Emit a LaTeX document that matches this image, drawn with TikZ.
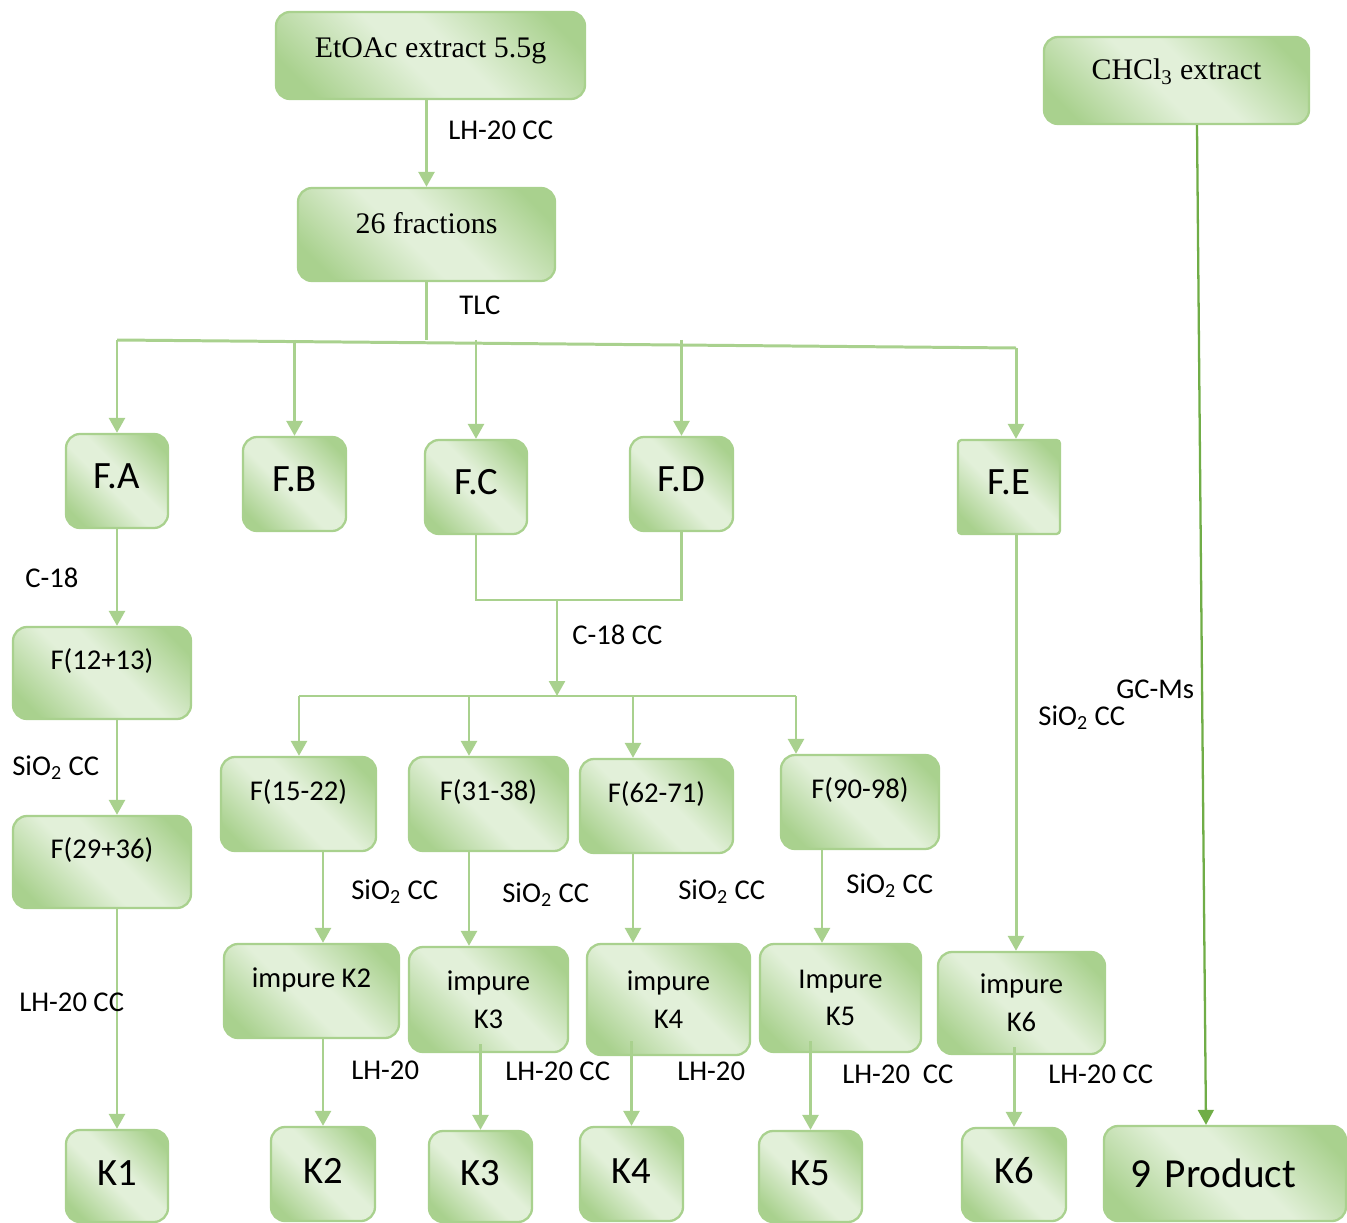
\documentclass[tikz,border=0pt]{standalone}
\usepackage{fontspec}
\setmainfont{Carlito}
\newfontfamily\tnr{Liberation Serif}
\usepackage{tikz}
\usetikzlibrary{arrows.meta, calc}
\definecolor{gline}{HTML}{A9D18E}
\definecolor{gdark}{HTML}{A9D18E}
\definecolor{glight}{HTML}{E2F0D9}
\definecolor{gdeep}{HTML}{70AD47}
\pgfdeclareverticalshading{boxfill}{100bp}{color(0bp)=(gdark); color(22bp)=(gdark);
    color(45bp)=(glight); color(55bp)=(glight); color(78bp)=(gdark); color(100bp)=(gdark)}

\begin{document}
\begin{tikzpicture}[x=0.02cm, y=-0.02cm,
    box/.style={draw=gline, line width=1.3pt, rounded corners=0.28cm,
        shading=boxfill, shading angle=-45,
        align=center, inner sep=0pt, font=\fontsize{16.3}{21.5}\selectfont},
    bsize/.style 2 args={minimum width=#1*0.02cm, minimum height=#2*0.02cm},
    lift/.style={text height=11pt, text depth=#1},
    big/.style={font=\fontsize{22}{26}\selectfont, text height=14.2pt, text depth=#1},
    serif/.style={font=\tnr\fontsize{17}{20}\selectfont},
    lbl/.style={anchor=base west, inner sep=0pt, font=\fontsize{16.3}{20}\selectfont},
    line/.style={draw=gline, line width=1.7pt},
    arr/.style={line, -{Triangle[length=8.5pt, width=9pt]}}]
    \useasboundingbox (0,0) rectangle (1347,1223);
    % top boxes
    \node[box, serif, bsize={309}{87}, lift=8.7pt] (etoac) at (430.5,55.5) {EtOAc extract 5.5g};
    \node[box, serif, bsize={257}{93}, lift=12.7pt] (frac) at (426.5,234.5) {26 fractions};
    \node[box, serif, bsize={265}{87}, lift=12.1pt] (chcl) at (1176.5,80.5) {CHCl\textsubscript{3} extract};
    % fractions
    \node[box, big=5.2pt, bsize={102}{94}] (FA) at (117,481) {F.A};
    \node[box, big=5.2pt, bsize={103}{94}] (FB) at (294.5,484) {F.B};
    \node[box, big=5.2pt, bsize={102}{94}] (FC) at (476,487) {F.C};
    \node[box, big=5.2pt, bsize={103}{94}] (FD) at (681.5,484) {F.D};
    \node[box, big=5.2pt, bsize={102}{94}, rounded corners=2pt] (FE) at (1009,487) {F.E};
    \node[box, bsize={178}{92}, lift=15pt] (f1213) at (102,673) {F(12+13)};
    \node[box, bsize={178}{92}, lift=15pt] (f2936) at (102,862) {F(29+36)};
    \node[box, bsize={155}{94}, lift=14.5pt] (f1522) at (298.5,804) {F(15-22)};
    \node[box, bsize={159}{94}, lift=14.5pt] (f3138) at (488.5,804) {F(31-38)};
    \node[box, bsize={153}{94}, lift=14.5pt] (f6271) at (656.5,806) {F(62-71)};
    \node[box, bsize={158}{94}, lift=14.5pt] (f9098) at (860,802) {F(90-98)};
    % impure
    \node[box, bsize={175}{94}, lift=14.5pt] (iK2) at (311.5,991) {impure K2};
    \node[box, bsize={159}{105}] (iK3) at (488.5,999.5) {impure\\K3};
    \node[box, bsize={163}{111}] (iK4) at (668.5,999.5) {impure\\K4};
    \node[box, bsize={161}{108}] (iK5) at (840.5,998) {Impure\\K5};
    \node[box, bsize={167}{102}] (iK6) at (1021.5,1003) {impure\\K6};
    % products
    \node[box, big=3.4pt, bsize={102}{92}] (K1) at (117,1176) {K1};
    \node[box, big=3.4pt, bsize={104}{94}] (K2) at (323,1174) {K2};
    \node[box, big=3.4pt, bsize={103}{91}] (K3) at (480.5,1176.5) {K3};
    \node[box, big=3.4pt, bsize={103}{94}] (K4) at (631.5,1174) {K4};
    \node[box, big=3.4pt, bsize={103}{91}] (K5) at (810.5,1176.5) {K5};
    \node[box, big=3.4pt, bsize={104}{93}] (K6) at (1014,1174.5) {K6};
    \node[box, bsize={242}{95}, font=\fontsize{23.5}{26}\selectfont, text width=3.8cm, align=left] (prod) at (1225,1173.5) {9 Product};

    % connectors
    \coordinate (busL) at (117,340);
    \coordinate (busR) at (1016,348);
    \coordinate (cd) at (557,600);
    \coordinate (b1) at (299,696);
    \coordinate (b2) at (469,696);
    \coordinate (b3) at (633,696);
    \coordinate (b4) at (796,696);
    \draw[arr] (frac |- etoac.south) -- (frac);
    \draw[line] (frac) -- (frac |- busL);
    \draw[line] (busL) -- (busR);
    \draw[arr] (busL) -- (FA);
    \draw[arr] (FB |- busL) -- (FB);
    \draw[arr] (FC |- busL) -- (FC);
    \draw[arr] (FD |- busL) -- (FD);
    \draw[arr] (busR) -- (busR |- FE.north);
    \draw[arr] (FA) -- (FA |- f1213.north);
    \draw[arr] (FA |- f1213.south) -- (FA |- f2936.north);
    \draw[arr] (FA |- f2936.south) -- (K1);
    \draw[line] (FC) -- (FC |- cd) -- (FD |- cd) -- (FD);
    \draw[arr] (cd) -- (cd |- b1);
    \draw[line] (b1) -- (b4);
    \draw[arr] (b1) -- (b1 |- f1522.north);
    \draw[arr] (b2) -- (b2 |- f3138.north);
    \draw[arr] (b3) -- (b3 |- f6271.north);
    \draw[arr] (b4) -- (b4 |- f9098.north);
    \draw[arr] (f1522.south -| K2) -- (iK2.north -| K2);
    \draw[arr] (f3138.south -| b2) -- (iK3.north -| b2);
    \draw[arr] (f6271.south -| b3) -- (iK4.north -| b3);
    \draw[arr] ($(f9098.south)+(-38,0)$) -- ($(iK5.north)+(-18.5,0)$);
    \draw[arr] (FE.south -| busR) -- (iK6.north -| busR);
    \draw[arr] (iK2.south -| K2) -- (K2);
    \draw[arr] ($(iK3.south -| K3)+(0,-9)$) -- (K3);
    \draw[arr] ($(iK4.south -| K4)+(0,-15)$) -- (K4);
    \draw[arr] ($(iK5.south -| K5)+(0,-12)$) -- (K5);
    \draw[arr] ($(iK6.south -| K6)+(0,-8)$) -- (K6);
    \draw[draw=gdeep, line width=1.3pt, -{Triangle[length=8.5pt, width=9pt]}]
        ($(chcl.south)+(20.5,0)$) -- ($(prod.north)+(-19,0)$);

    % labels
    \node[lbl] (t1) at (448,140) {LH-20 CC};
    \node[lbl] (t2) at (459,315) {TLC};
    \node[lbl] (t3) at (25,587) {C-18};
    \node[lbl] (t4) at (12,775) {SiO\textsubscript{2} CC};
    \node[lbl] (t5) at (19,1011) {LH-20 CC};
    \node[lbl] (t6) at (572,644) {C-18 CC};
    \node[lbl] (t7) at (351,899) {SiO\textsubscript{2} CC};
    \node[lbl] (t8) at (502,902) {SiO\textsubscript{2} CC};
    \node[lbl] (t9) at (678,899) {SiO\textsubscript{2} CC};
    \node[lbl] (t10) at (846,893) {SiO\textsubscript{2} CC};
    \node[lbl] (t11) at (1038,725) {SiO\textsubscript{2} CC};
    \node[lbl] (t12) at (1116,698) {GC-Ms};
    \node[lbl] (t13) at (351,1079) {LH-20};
    \node[lbl] (t14) at (505,1080) {LH-20 CC};
    \node[lbl] (t15) at (677,1080) {LH-20};
    \node[lbl] (t16) at (842,1083) {LH-20~~CC};
    \node[lbl] (t17) at (1048,1083) {LH-20 CC};
\end{tikzpicture}
\end{document}
